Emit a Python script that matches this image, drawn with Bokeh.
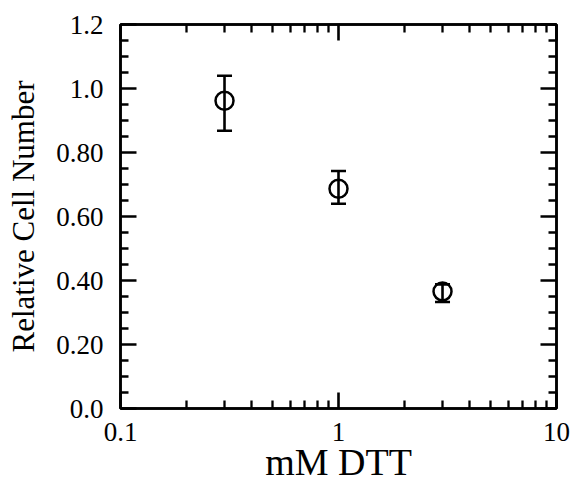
from bokeh.plotting import figure
from bokeh.models import (LogAxis, LinearAxis, FixedTicker, Whisker, ColumnDataSource,
                          TeeHead, Range1d)
from bokeh.embed import file_html
from bokeh.resources import INLINE

# ---- data ----
dtt_mM = [0.3, 1.0, 3.0]
rel_cell = [0.962, 0.687, 0.366]
err_upper = [1.040, 0.742, 0.388]
err_lower = [0.868, 0.640, 0.333]

x_major = [0.1, 1, 10]
x_minor = [0.2, 0.3, 0.4, 0.5, 0.6, 0.7, 0.8, 0.9, 2, 3, 4, 5, 6, 7, 8, 9]
x_labels = {0.1: "0.1", 1: "1", 10: "10"}
y_major = [0.0, 0.2, 0.4, 0.6, 0.8, 1.0, 1.2]
y_minor = [0.05, 0.1, 0.15, 0.25, 0.3, 0.35, 0.45, 0.5, 0.55, 0.65, 0.7, 0.75,
           0.85, 0.9, 0.95, 1.05, 1.1, 1.15]
y_labels = {0.0: "0.0", 0.2: "0.20", 0.4: "0.40", 0.6: "0.60", 0.8: "0.80",
            1.0: "1.0", 1.2: "1.2"}

FONT = "Liberation Serif"

src = ColumnDataSource(dict(x=dtt_mM, y=rel_cell, upper=err_upper, lower=err_lower))

p = figure(width=572, height=497, x_axis_type="log",
           x_range=Range1d(0.1, 10), y_range=Range1d(0, 1.2),
           output_backend="svg", toolbar_location=None,
           min_border_left=120, min_border_right=16,
           min_border_top=24, min_border_bottom=89)
p.grid.visible = False
p.background_fill_color = "white"
p.border_fill_color = "white"
p.outline_line_color = "black"
p.outline_line_width = 2.5


def style_axis(ax, ticks, minor, labels=None, show_labels=True):
    ax.ticker = FixedTicker(ticks=ticks, minor_ticks=minor)
    ax.axis_line_width = 2.5
    ax.axis_line_color = "black"
    ax.major_tick_in = 16
    ax.major_tick_out = 0
    ax.minor_tick_in = 8
    ax.minor_tick_out = 0
    ax.major_tick_line_width = 2.6
    ax.minor_tick_line_width = 2.3
    ax.major_tick_line_color = "black"
    ax.minor_tick_line_color = "black"
    if show_labels:
        ax.major_label_overrides = labels
        ax.major_label_text_font = FONT
        ax.major_label_text_font_size = "27px"
        ax.major_label_text_color = "black"
    else:
        ax.major_label_text_font_size = "1px"
        ax.major_label_text_color = None
        ax.major_label_standoff = 0


xa = p.xaxis[0]
style_axis(xa, x_major, x_minor, x_labels)
xa.major_label_standoff = 14
xa.axis_label = "mM DTT"
xa.axis_label_text_font = FONT
xa.axis_label_text_font_style = "normal"
xa.axis_label_text_font_size = "38px"
xa.axis_label_text_color = "black"
xa.axis_label_standoff = -3

ya = p.yaxis[0]
style_axis(ya, y_major, y_minor, y_labels)
ya.major_label_standoff = 17
ya.axis_label = "Relative Cell Number"
ya.axis_label_text_font = FONT
ya.axis_label_text_font_style = "normal"
ya.axis_label_text_font_size = "31px"
ya.axis_label_text_color = "black"
ya.axis_label_standoff = 12

top = LogAxis()
style_axis(top, x_major, x_minor, show_labels=False)
p.add_layout(top, "above")

right = LinearAxis()
style_axis(right, y_major, y_minor, show_labels=False)
p.add_layout(right, "right")

whisk = Whisker(base="x", upper="upper", lower="lower", source=src,
                line_width=2.6, line_color="black",
                upper_head=TeeHead(size=15, line_width=2.6, line_color="black"),
                lower_head=TeeHead(size=15, line_width=2.6, line_color="black"))
p.add_layout(whisk)

p.scatter("x", "y", source=src, marker="circle", size=18, fill_color=None,
          line_color="black", line_width=2.5)

open("out.html", "w").write(file_html(p, INLINE))
